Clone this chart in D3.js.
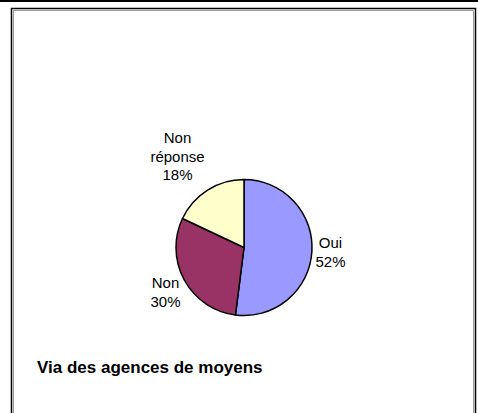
<!DOCTYPE html>
<html>
<head>
<meta charset="utf-8">
<script src="https://cdn.jsdelivr.net/npm/d3@7"></script>
<style>
  html, body { margin: 0; padding: 0; background: #fff; }
  svg { display: block; }
</style>
</head>
<body>
<svg id="chart" width="478" height="413"></svg>
<script>
const categories = ["Oui", "Non", "Non réponse"];
const values = [52, 30, 18];
const labelLines = [["Oui", "52%"], ["Non", "30%"], ["Non", "réponse", "18%"]];
const colors = ["#9999FF", "#993366", "#FFFFCC"];
const title = "Via des agences de moyens";

const svg = d3.select("#chart");
const W = 478, H = 413;

// top rule
svg.append("rect").attr("x", 0).attr("y", 0).attr("width", W).attr("height", 2).attr("fill", "#000");

// chart frame
svg.append("rect").attr("x", 11.5).attr("y", 8.5).attr("width", 464).attr("height", 430)
  .attr("fill", "#fff").attr("stroke", "#000").attr("stroke-width", 1.5);
svg.append("path").attr("d", `M13.5,${H}V10.5H473.5V${H}`)
  .attr("fill", "none").attr("stroke", "#999").attr("stroke-width", 1);

const cx = 244, cy = 247.5, r = 68;
const pie = d3.pie().sort(null).value(d => d)(values);
const arc = d3.arc().innerRadius(0).outerRadius(r);

const g = svg.append("g").attr("transform", `translate(${cx},${cy})`);
g.selectAll("path").data(pie).join("path")
  .attr("d", arc)
  .attr("fill", (d, i) => colors[i])
  .attr("stroke", "#000")
  .attr("stroke-width", 1.5)
  .attr("stroke-linejoin", "round");

// labels, positioned outside along the slice mid-angle
const labelPos = [
  { x: 330.5, y: 248 },
  { x: 165.5, y: 288 },
  { x: 177.5, y: 143 }
];
const lineH = 18.5;
labelLines.forEach((lines, i) => {
  const t = svg.append("text")
    .attr("text-anchor", "middle")
    .attr("font-family", "Liberation Sans, Arial, sans-serif")
    .attr("font-size", 15)
    .attr("fill", "#000");
  lines.forEach((ln, j) => {
    t.append("tspan").attr("x", labelPos[i].x).attr("y", labelPos[i].y + j * lineH).text(ln);
  });
});

svg.append("text")
  .attr("x", 37).attr("y", 373)
  .attr("font-family", "Liberation Sans, Arial, sans-serif")
  .attr("font-size", 17)
  .attr("font-weight", "bold")
  .attr("fill", "#000")
  .text(title);
</script>
</body>
</html>
